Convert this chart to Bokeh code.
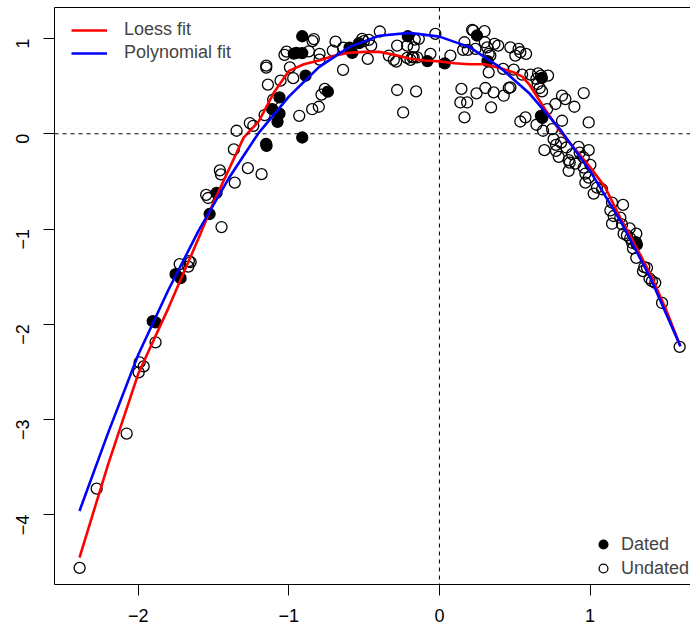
import math
from bokeh.plotting import figure
from bokeh.models import (Range1d, LinearAxis, FixedTicker, Span, Legend, LegendItem)
from bokeh.embed import file_html
from bokeh.resources import INLINE

# ---- data ----
dated_x = [-1.904, -1.885, -1.752, -1.719, -1.526, -1.480, -1.151, -1.148, -1.075, -1.110,
           -1.062, -1.062, -0.911, -0.889, -0.741, -0.911, -0.967, -0.949, -0.911, -0.597,
           -0.579, -0.534, -0.210, -0.080, 0.035, 0.249, 0.319, 0.680, 0.674, 0.683,
           1.304, 1.311]
dated_y = [-1.968, -1.979, -1.474, -1.516, -0.842, -0.621, -0.105, -0.126, 0.126, 0.258,
           0.211, 0.382, -0.039, 0.611, 0.442, 1.024, 0.842, 0.849, 0.847, 0.905,
           0.849, 0.951, 1.024, 0.763, 0.740, 1.032, 0.763, 0.586, 0.189, 0.168,
           -1.137, -1.163]

undated_x = [-2.389, -2.276, -2.077, -1.991, -1.964, -1.997, -1.885, -1.725, -1.664, -1.652,
             -1.668, -1.447, -1.549, -1.536, -1.458, -1.451, -1.359, -1.272, -1.181, -1.365,
             -1.347, -1.259, -1.236, -1.161, -1.104, -1.139, -1.055, -0.971, -0.993, -1.150,
             -1.150, -1.015, -1.029, -0.931, -0.845, -0.801, -0.783, -0.761, -0.867, -0.843,
             -0.834, -0.796, -0.796, -0.708, -0.690, -0.639, -0.640, -0.513, -0.502, -0.469,
             -0.453, -0.476, -0.396, -0.336, -0.303, -0.287, -0.281, -0.214, -0.171, -0.164,
             -0.137, -0.214, -0.192, -0.181, -0.171, -0.148, -0.060, -0.027, 0.073, -0.281,
             -0.155, -0.241, 0.157, 0.166, 0.188, 0.217, 0.224, 0.239, 0.299, 0.301,
             0.317, 0.365, 0.390, 0.327, 0.338, 0.327, 0.471, 0.526, 0.537, 0.575,
             0.504, 0.423, 0.493, 0.549, 0.604, 0.655, 0.675, 0.721, 0.644, 0.652,
             0.666, 0.681, 0.146, 0.246, 0.305, 0.360, 0.427, 0.460, 0.471, 0.139,
             0.184, 0.166, 0.343, 0.537, 0.571, 0.644, 0.688, 0.715, 0.770, 0.814,
             0.836, 0.896, 0.958, 0.814, 0.991, 0.748, 0.697, 0.758, 0.774, 0.774,
             0.792, 0.808, 0.843, 0.858, 0.865, 0.881, 0.924, 0.931, 0.991, 0.958,
             1.002, 0.958, 0.858, 0.969, 0.969, 0.991, 1.046, 1.024, 1.080, 0.902,
             1.146, 1.135, 1.219, 1.157, 1.201, 1.146, 1.212, 1.223, 1.245, 1.263,
             1.307, 1.279, 1.285, 1.307, 1.267, 1.360, 1.378, 1.352, 1.395, 1.411,
             1.433, 1.478, 1.595]
undated_y = [-4.558, -3.726, -3.147, -2.400, -2.442, -2.505, -2.189, -1.368, -1.337, -1.347,
             -1.395, -0.979, -0.642, -0.674, -0.384, -0.426, -0.513, -0.361, -0.424, -0.163,
             0.032, 0.113, 0.084, 0.197, 0.358, 0.516, 0.558, 0.584, 0.698, 0.716,
             0.695, 0.863, 0.828, 0.189, 0.258, 0.284, 0.411, 0.471, 0.866, 0.974,
             0.995, 0.839, 0.779, 0.874, 0.968, 0.905, 0.671, 0.997, 0.972, 0.986,
             0.926, 0.786, 1.074, 0.821, 0.776, 0.758, 0.926, 0.926, 0.908, 0.989,
             0.997, 0.797, 0.776, 0.805, 0.803, 0.803, 0.839, 1.049, 0.821, 0.460,
             0.445, 0.224, 0.881, 0.961, 0.881, 1.092, 1.084, 0.892, 1.077, 0.961,
             0.908, 0.944, 0.926, 0.839, 0.821, 0.645, 0.908, 0.892, 0.856, 0.839,
             0.821, 0.681, 0.674, 0.621, 0.621, 0.635, 0.611, 0.611, 0.576, 0.523,
             0.481, 0.445, 0.471, 0.424, 0.481, 0.435, 0.400, 0.481, 0.487, 0.329,
             0.329, 0.172, 0.277, 0.129, 0.172, 0.095, 0.032, 0.260, 0.313, 0.400,
             0.365, 0.284, 0.428, 0.137, 0.119, 0.049, -0.172, -0.056, -0.116, -0.179,
             -0.242, -0.092, -0.144, -0.277, -0.302, -0.214, -0.137, -0.197, -0.172, -0.249,
             -0.326, -0.355, -0.389, -0.418, -0.513, -0.460, -0.565, -0.628, -0.582, -0.313,
             -0.723, -0.803, -0.747, -0.863, -0.881, -0.944, -0.951, -1.049, -1.066, -0.993,
             -1.049, -1.144, -1.203, -1.302, -1.098, -1.400, -1.407, -1.442, -1.519, -1.547,
             -1.565, -1.776, -2.237]

loess_x = [-2.39, -2.2, -2.0, -1.8, -1.6, -1.5, -1.4, -1.3, -1.2, -1.1, -1.0, -0.9, -0.8,
           -0.7, -0.6, -0.5, -0.4, -0.3, -0.2, -0.1, 0.0, 0.1, 0.2, 0.3, 0.4, 0.5, 0.55,
           0.6, 0.7, 0.8, 0.9, 1.0, 1.1, 1.2, 1.3, 1.4, 1.5, 1.6]
loess_y = [-4.45, -3.47, -2.52, -1.83, -1.10, -0.72, -0.38, -0.04, 0.13, 0.43, 0.66, 0.73, 0.77,
           0.82, 0.85, 0.86, 0.86, 0.83, 0.79, 0.77, 0.76, 0.74, 0.73, 0.73, 0.69, 0.64, 0.60,
           0.51, 0.26, 0.03, -0.16, -0.35, -0.56, -0.88, -1.17, -1.47, -1.83, -2.23]

poly_x = [-2.39, -2.2, -2.0, -1.8, -1.6, -1.4, -1.2, -1.0, -0.8, -0.6, -0.4, -0.2, 0.0,
          0.2, 0.4, 0.6, 0.8, 1.0, 1.2, 1.4, 1.6]
poly_y = [-3.96, -3.14, -2.32, -1.64, -1.02, -0.47, 0.01, 0.39, 0.70, 0.91, 1.03, 1.06, 1.02,
          0.91, 0.70, 0.42, 0.05, -0.39, -0.91, -1.51, -2.23]

x_ticks = [-2, -1, 0, 1]
y_ticks = [-4, -3, -2, -1, 0, 1]

FONT = "Liberation Sans"
FS = "18px"

p = figure(width=690, height=624, output_backend="svg", toolbar_location=None,
           x_range=Range1d(-2.556, 1.667), y_range=Range1d(-4.732, 1.326),
           min_border_left=54, min_border_right=0, min_border_top=7, min_border_bottom=40,
           x_axis_location=None, y_axis_location=None)
p.grid.visible = False
p.outline_line_color = None
p.background_fill_color = "white"


def lab(v):
    return ("\u2212" + str(abs(v))) if v < 0 else str(v)


xaxis = LinearAxis(ticker=FixedTicker(ticks=x_ticks),
                   major_label_overrides={v: lab(v) for v in x_ticks})
yaxis = LinearAxis(ticker=FixedTicker(ticks=y_ticks),
                   major_label_overrides={v: lab(v) for v in y_ticks},
                   major_label_orientation=math.pi / 2)
for ax in (xaxis, yaxis):
    ax.major_tick_out = 11
    ax.major_tick_in = 0
    ax.minor_tick_out = 0
    ax.minor_tick_in = 0
    ax.axis_line_color = "black"
    ax.major_tick_line_color = "black"
    ax.major_label_text_font = FONT
    ax.major_label_text_font_size = FS
    ax.major_label_text_color = "black"
xaxis.major_label_standoff = 13
xaxis.major_label_text_line_height = 0.25
yaxis.major_label_standoff = 21
p.add_layout(xaxis, "below")
p.add_layout(yaxis, "left")

top = LinearAxis(ticker=FixedTicker(ticks=[]), major_tick_out=0, major_tick_in=0,
                 minor_tick_out=0, minor_tick_in=0, major_label_standoff=0,
                 major_label_text_font_size="0px", axis_line_color="black")
p.add_layout(top, "above")

p.add_layout(Span(location=0, dimension="width", line_color="black",
                  line_width=1, line_dash="4 4"))
p.add_layout(Span(location=0, dimension="height", line_color="black",
                  line_width=1, line_dash="4 4"))

r_und = p.scatter(undated_x, undated_y, marker="circle", size=11,
                  fill_color=None, line_color="black", line_width=1.3)
r_dat = p.scatter(dated_x, dated_y, marker="circle", size=11,
                  fill_color="black", line_color="black", line_width=1.3)

r_lo = p.line(loess_x, loess_y, line_color="#ff0000", line_width=2.6)
r_po = p.line(poly_x, poly_y, line_color="#0000ff", line_width=2.6)

leg1 = Legend(items=[LegendItem(label="Loess fit", renderers=[r_lo]),
                     LegendItem(label="Polynomial fit", renderers=[r_po])],
              location=(17, 521), padding=0, margin=0, spacing=2,
              glyph_width=36, glyph_height=20, label_height=20, label_standoff=17,
              label_text_font=FONT, label_text_font_size=FS,
              border_line_color=None, background_fill_alpha=0)
leg2 = Legend(items=[LegendItem(label="Dated", renderers=[r_dat]),
                     LegendItem(label="Undated", renderers=[r_und])],
              location=(538, 5), padding=0, margin=0, spacing=2,
              glyph_width=22, glyph_height=22, label_height=22, label_standoff=7,
              label_text_font=FONT, label_text_font_size=FS,
              border_line_color=None, background_fill_alpha=0)
p.add_layout(leg1)
p.add_layout(leg2)

open("out.html", "w").write(file_html(p, INLINE))
